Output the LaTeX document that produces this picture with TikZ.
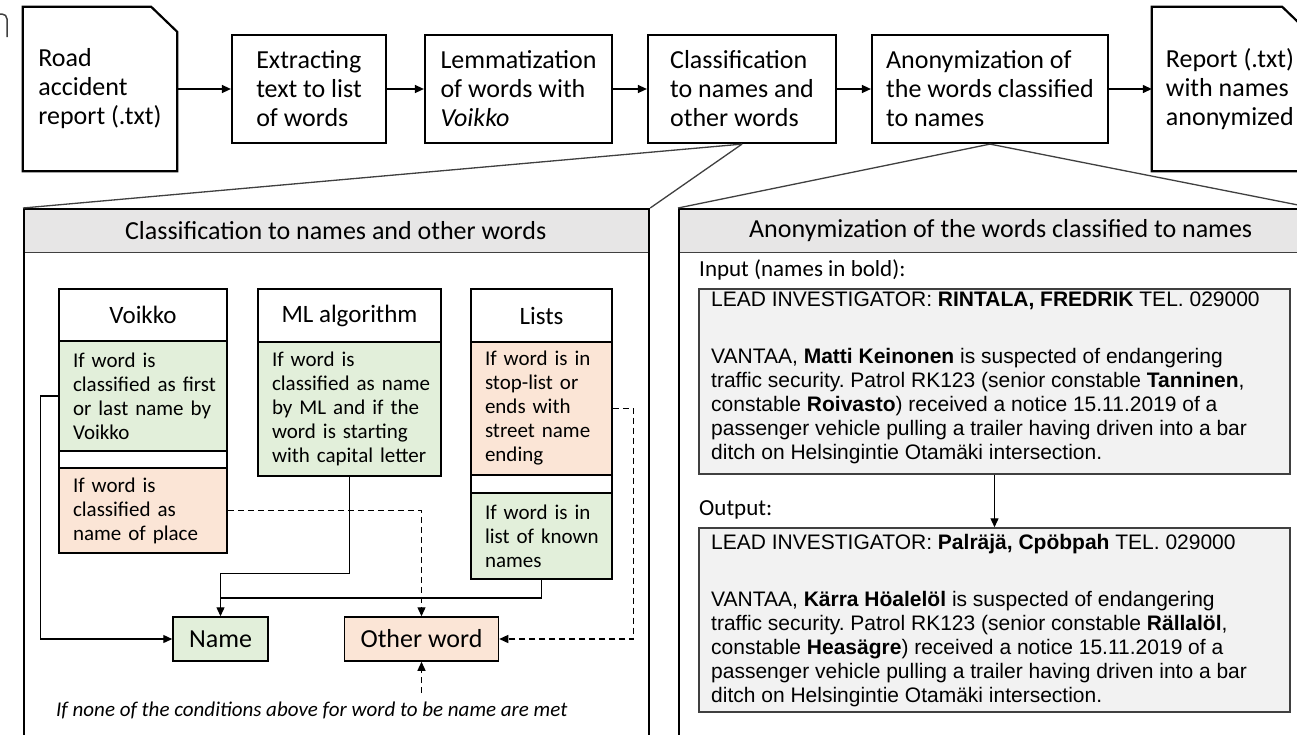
\documentclass[tikz,border=0pt]{standalone}
\usepackage{fontspec}
\setmainfont{Carlito}
\newfontfamily\arialfont{Liberation Sans}
\usetikzlibrary{arrows.meta}
\definecolor{gfill}{HTML}{E2EFDA}
\definecolor{ofill}{HTML}{FBE5D6}
\definecolor{hfill}{HTML}{E7E6E6}
\definecolor{tfill}{HTML}{F2F2F2}
\definecolor{lgray}{HTML}{404040}
\newcommand\condline[1]{\mbox{#1}}
\frenchspacing
\begin{document}
\begin{tikzpicture}[x=1pt,y=-1pt,
  topbox/.style={draw, line width=2.2pt, align=left, inner sep=0pt, minimum height=108pt, font=\fontsize{26}{29}\selectfont},
  docnode/.style={align=left, inner sep=0pt, minimum height=164pt, font=\fontsize{26}{29}\selectfont},
  docline/.style={line width=2.2pt, line join=miter},
  arr/.style={line width=1.3pt, -{Triangle[length=9pt,width=8pt]}},
  conn/.style={line width=1.3pt},
  dsh/.style={dash pattern=on 6pt off 4pt},
  gline/.style={line width=1.3pt, draw=lgray},
  phead/.style={fill=hfill, inner sep=0pt, minimum height=44pt, font=\fontsize{26}{29}\selectfont},
  panel/.style={draw, line width=2.2pt, inner sep=0pt},
  colhead/.style={draw, line width=1.5pt, fill=white, inner sep=0pt, font=\fontsize{25}{28}\selectfont},
  cond/.style={draw, line width=1.5pt, inner sep=0pt, inner xsep=14pt, align=left, font=\fontsize{21}{24}\selectfont},
  gapbox/.style={draw, line width=1.5pt, fill=white, inner sep=0pt},
  result/.style={draw, line width=1.5pt, inner sep=0pt, minimum height=44pt, font=\fontsize{26}{29}\selectfont},
  txtbox/.style={draw=lgray, line width=1.5pt, fill=tfill, inner sep=0pt},
  atext/.style={align=left, inner sep=0pt, font=\arialfont\fontsize{21}{24}\selectfont\frenchspacing},
  lab/.style={inner sep=0pt, font=\fontsize{23}{26}\selectfont}
]
\clip (0,0) rectangle (1297,734);
\fill[white] (0,0) rectangle (1297,734);

% partial shape at the left edge
\draw[line width=1.5pt, draw=lgray, rounded corners=5pt] (-2,14) -- (7,14) -- (7,37);

% top row
\node[docnode, minimum width=154pt] (doc1) at (100,89) {Road\\accident\\report (.txt)};
\draw[docline] (doc1.north west) -- ([xshift=-26pt]doc1.north east) -- ([yshift=-25pt]doc1.north east) -- (doc1.south east) -- (doc1.south west) -- cycle;
\node[topbox, minimum width=154pt] (extract) at (309,89) {Extracting\\text to list\\of words};
\node[topbox, minimum width=187pt] (lemma) at (518.5,89) {Lemmatization\\of words with\\\textit{Voikko}};
\node[topbox, minimum width=188pt] (classif) at (742,89) {Classification\\to names and\\other words};
\node[topbox, minimum width=236pt] (anon) at (990,89) {Anonymization of\\the words classified\\to names};
\node[docnode, minimum width=156pt] (report) at (1230,89) {Report (.txt)\\with names\\anonymized};
\draw[docline] (report.north west) -- ([xshift=-26pt]report.north east) -- ([yshift=-25pt]report.north east) -- (report.south east) -- (report.south west) -- cycle;

\draw[arr] (doc1.east) -- (extract.west);
\draw[arr] (extract.east) -- (lemma.west);
\draw[arr] (lemma.east) -- (classif.west);
\draw[arr] (classif.east) -- (anon.west);
\draw[arr] (anon.east) -- (report.west);

% left panel
\node[phead, minimum width=625pt, anchor=north west] (lph) at (23,208) {Classification to names and other words};
\draw[line width=1.5pt, draw=lgray] (lph.south west) -- (lph.south east);
\node[panel, minimum width=625pt, minimum height=570pt, anchor=north west] (lp) at (23,208) {};

% right panel
\node[phead, minimum width=633pt, anchor=north west] (rph) at (678,208) {\hspace*{12pt}Anonymization of the words classified to names};
\draw[line width=1.5pt, draw=lgray] (rph.south west) -- (rph.south east);
\node[panel, minimum width=633pt, minimum height=570pt, anchor=north west] (rp) at (678,208) {};

% zoom lines
\draw[gline] (classif.south) -- (lp.north west);
\draw[gline] (classif.south) -- (lp.north east);
\draw[gline] (anon.south) -- (rp.north west);
\draw[gline] (anon.south) -- (rp.north east);

% Voikko column
\node[colhead, minimum width=168pt, minimum height=52pt] (vhead) at (143,315) {Voikko};
\node[cond, fill=gfill, text width=140pt, minimum height=110pt] (vgreen) at (143,396) {\condline{If word is}\\\condline{classified as first}\\\condline{or last name by}\\\condline{Voikko}};
\node[gapbox, minimum width=168pt, minimum height=17pt] (vgap) at (143,459.5) {};
\node[cond, fill=ofill, text width=140pt, minimum height=85pt] (vorange) at (143,510.5) {\condline{If word is}\\\condline{classified as}\\\condline{name of place}};

% ML column
\node[colhead, minimum width=183pt, minimum height=53pt] (mlhead) at (349.5,315.5) {ML algorithm};
\node[cond, fill=gfill, text width=155pt, minimum height=134pt] (mlgreen) at (349.5,409) {\condline{If word is}\\\condline{classified as name}\\\condline{by ML and if the}\\\condline{word is starting}\\\condline{with capital letter}};

% Lists column
\node[colhead, minimum width=141pt, minimum height=53pt] (lhead) at (541.5,315.5) {Lists};
\node[cond, fill=ofill, text width=113pt, minimum height=133pt] (lorange) at (541.5,408.5) {\condline{If word is in}\\\condline{stop-list or}\\\condline{ends with}\\\condline{street name}\\\condline{ending}};
\node[gapbox, minimum width=141pt, minimum height=18pt] (lgap) at (541.5,484) {};
\node[cond, fill=gfill, text width=113pt, minimum height=86pt] (lgreen) at (541.5,536) {\condline{If word is in}\\\condline{list of known}\\\condline{names}};

% results
\node[result, fill=gfill, minimum width=95pt] (name) at (220.5,639) {Name};
\node[result, fill=ofill, minimum width=154pt] (other) at (421.5,639) {Other word};
\node[anchor=west, inner sep=0pt, font=\fontsize{21}{24}\selectfont\itshape] (note) at (56,710) {If none of the conditions above for word to be name are met};

% connectors
\coordinate (join) at (220.5,598);
\coordinate (notetop) at (421.5,693);
\draw[arr] (vgreen.west) -- ++(-18,0) |- (name.west);
\draw[arr] (mlgreen.south) -- ++(0,97) -| (name.north);
\draw[conn] (lgreen.south) |- (join);
\draw[arr, dsh] (vorange.east) -| (other.north);
\draw[arr, dsh] (lorange.east) -- ++(21,0) |- (other.east);
\draw[arr, dsh] (notetop) -- (other.south);

% right panel contents
\node[lab, anchor=west] (inlab) at (699,270) {Input (names in bold):};
\node[txtbox, minimum width=591pt, minimum height=185pt] (inbox) at (994.5,381.5) {};
\node[atext, anchor=west] (intext) at (711,378) {LEAD INVESTIGATOR: \textbf{RINTALA, FREDRIK} TEL. 029000\\[33pt]VANTAA, \textbf{Matti Keinonen} is suspected of endangering\\traffic security. Patrol RK123 (senior constable \textbf{Tanninen},\\constable \textbf{Roivasto}) received a notice 15.11.2019 of a\\passenger vehicle pulling a trailer having driven into a bar\\ditch on Helsingintie Otamäki intersection.};
\node[lab, anchor=west] (outlab) at (699,510) {Output:};
\node[txtbox, minimum width=591pt, minimum height=184pt] (outbox) at (994.5,620) {};
\node[atext, anchor=west] (outtext) at (711,621) {LEAD INVESTIGATOR: \textbf{Palräjä, Cpöbpah} TEL. 029000\\[33pt]VANTAA, \textbf{Kärra Höalelöl} is suspected of endangering\\traffic security. Patrol RK123 (senior constable \textbf{Rällalöl},\\constable \textbf{Heasägre}) received a notice 15.11.2019 of a\\passenger vehicle pulling a trailer having driven into a bar\\ditch on Helsingintie Otamäki intersection.};
\draw[arr] (inbox.south) -- (outbox.north);
\end{tikzpicture}
\end{document}
